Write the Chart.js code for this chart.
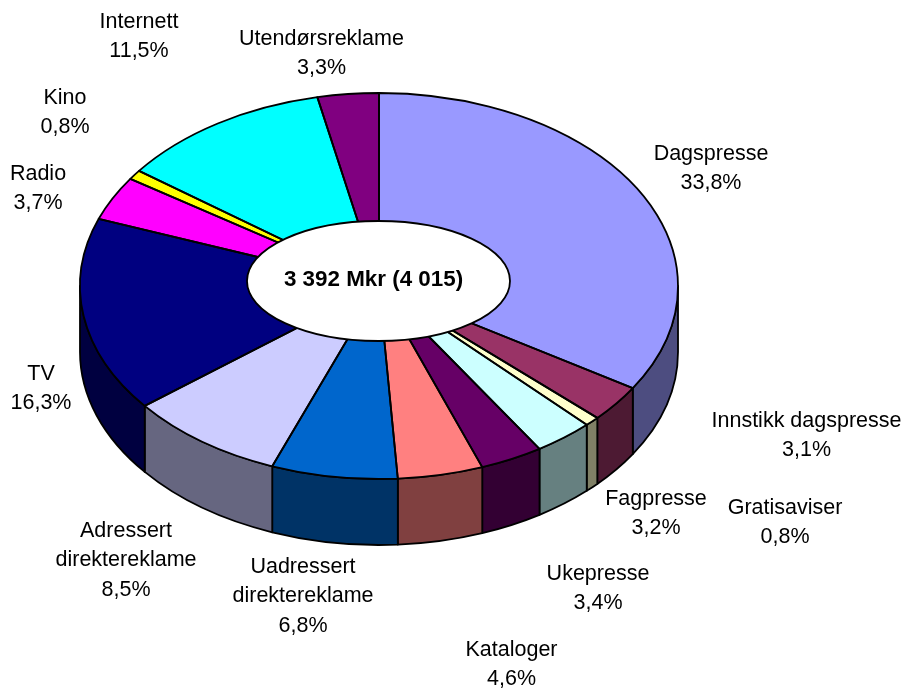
<!DOCTYPE html>
<html><head><meta charset="utf-8">
<style>html,body{margin:0;padding:0;background:#fff}canvas{display:block}</style>
<script src="https://cdn.jsdelivr.net/npm/chart.js@4"></script>
</head><body>
<canvas id="c" width="907" height="693"></canvas>
<script>
const categories = ["Dagspresse","Innstikk dagspresse","Gratisaviser","Fagpresse","Ukepresse","Kataloger","Uadressert direktereklame","Adressert direktereklame","TV","Radio","Kino","Internett","Utendørsreklame"];
const shares = [33.8,3.1,0.8,3.2,3.4,4.6,6.8,8.5,16.3,3.7,0.8,11.5,3.3];
const topColours = ["#9999FF","#993366","#FFFFCC","#CCFFFF","#660066","#FF8080","#0066CC","#CCCCFF","#000080","#FF00FF","#FFFF00","#00FFFF","#800080"];
const wallColours = ["#4D4D80","#4D1A33","#808066","#668080","#330033","#804040","#003366","#666680","#000040","#800080","#808000","#008080","#400040"];
const labelLines = [["Dagspresse"],["Innstikk dagspresse"],["Gratisaviser"],["Fagpresse"],["Ukepresse"],["Kataloger"],["Uadressert","direktereklame"],["Adressert","direktereklame"],["TV"],["Radio"],["Kino"],["Internett"],["Utendørsreklame"]];
const labelAnchors = [[711,154],[806.5,421],[785,508],[656,499],[598,574],[511.5,650],[303,567],[126,531],[41,374],[38,174],[65,98],[139,22],[321.5,39]];
const centreText = "3 392 Mkr (4 015)";

const TILT = 193/299, CY = 286, DEPTH = 66, LW = 1.8;
const mapY = y => CY + (y - 300) * TILT;

const pie3d = {
  id:"pie3d",
  beforeDatasetsDraw(chart){
    const ctx = chart.ctx, arcs = chart.getDatasetMeta(0).data;
    ctx.save();
    ctx.lineWidth = LW; ctx.strokeStyle = "#000"; ctx.lineJoin = "round";
    arcs.forEach((el,i)=>{
      const rx = el.outerRadius, ry = rx*TILT, cy = mapY(el.y);
      const a = Math.max(el.startAngle,0), b = Math.min(el.endAngle,Math.PI);
      if (b <= a) return;
      ctx.beginPath();
      ctx.ellipse(el.x,cy,rx,ry,0,a,b);
      ctx.ellipse(el.x,cy+DEPTH,rx,ry,0,b,a,true);
      ctx.closePath();
      ctx.fillStyle = wallColours[i];
      ctx.fill(); ctx.stroke();
    });
    ctx.restore();
    ctx.save();
    ctx.translate(0,CY); ctx.scale(1,TILT); ctx.translate(0,-300);
  },
  afterDatasetsDraw(chart){
    const ctx = chart.ctx, arcs = chart.getDatasetMeta(0).data;
    ctx.restore();
    ctx.save();
    ctx.lineWidth = LW; ctx.strokeStyle = "#000"; ctx.lineJoin = "round";
    arcs.forEach(el=>{
      const rx = el.outerRadius, ry = rx*TILT, cy = mapY(el.y);
      ctx.beginPath();
      ctx.moveTo(el.x,cy);
      ctx.ellipse(el.x,cy,rx,ry,0,el.startAngle,el.endAngle);
      ctx.closePath();
      ctx.stroke();
    });
    ctx.beginPath();
    ctx.ellipse(378.5,281,131.5,60,0,0,Math.PI*2);
    ctx.fillStyle = "#fff"; ctx.fill(); ctx.stroke();
    ctx.fillStyle = "#000"; ctx.textAlign = "center"; ctx.textBaseline = "middle";
    ctx.font = "bold 22.4px 'Liberation Sans'";
    ctx.fillText(centreText,373.5,280);
    ctx.font = "21.5px 'Liberation Sans'";
    labelLines.forEach((lines,i)=>{
      const [x,y] = labelAnchors[i];
      const all = lines.concat(shares[i].toFixed(1).replace(".",",")+"%");
      all.forEach((t,j)=>ctx.fillText(t,x,y+j*29.3));
    });
    ctx.restore();
  }
};

new Chart(document.getElementById("c"),{
  type:"pie",
  data:{labels:categories,datasets:[{data:shares,backgroundColor:topColours,borderWidth:0,clip:false}]},
  options:{
    responsive:false,animation:false,
    layout:{padding:{left:80,right:229,top:0,bottom:93}},
    plugins:{legend:{display:false},tooltip:{enabled:false},title:{display:false}}
  },
  plugins:[pie3d]
});
</script>
</body></html>
